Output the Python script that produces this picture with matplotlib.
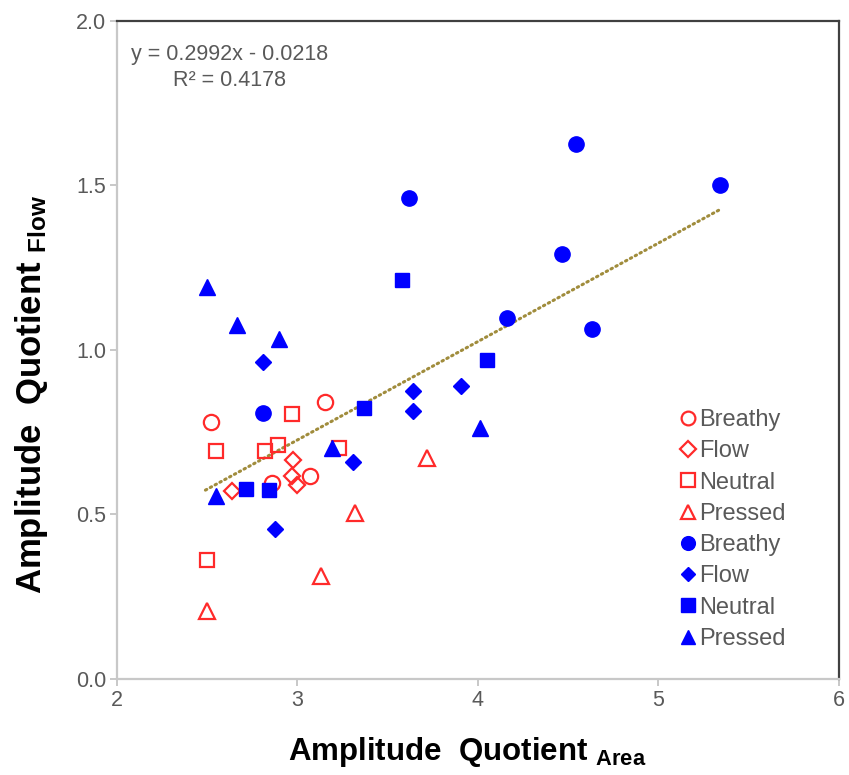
import matplotlib
matplotlib.use("Agg")
import matplotlib.pyplot as plt
import numpy as np

plt.rcParams['font.family'] = ['Liberation Sans', 'DejaVu Sans']
plt.rcParams['mathtext.fontset'] = 'custom'
plt.rcParams['mathtext.rm'] = 'Liberation Sans'
plt.rcParams['mathtext.bf'] = 'Liberation Sans:bold'
plt.rcParams['mathtext.it'] = 'Liberation Sans:italic'

# Open (red) series
red_breathy_x = [2.52, 3.15, 2.86, 3.07]
red_breathy_y = [0.781, 0.842, 0.595, 0.617]
red_flow_x = [2.64, 2.975, 2.97, 3.00]
red_flow_y = [0.572, 0.666, 0.617, 0.590]
red_neutral_x = [2.97, 2.55, 2.82, 2.89, 3.23, 2.50]
red_neutral_y = [0.805, 0.693, 0.693, 0.711, 0.702, 0.362]
red_pressed_x = [2.50, 3.13, 3.32, 3.72]
red_pressed_y = [0.207, 0.313, 0.505, 0.672]

# Filled (blue) series
blue_breathy_x = [5.34, 3.62, 4.543, 4.465, 4.16, 4.63, 2.81]
blue_breathy_y = [1.50, 1.462, 1.626, 1.292, 1.097, 1.064, 0.808]
blue_flow_x = [2.81, 3.64, 3.64, 3.905, 3.31, 2.875]
blue_flow_y = [0.964, 0.875, 0.815, 0.891, 0.660, 0.456]
blue_neutral_x = [3.58, 4.05, 3.37, 2.715, 2.84]
blue_neutral_y = [1.213, 0.970, 0.824, 0.577, 0.574]
blue_pressed_x = [2.50, 2.665, 2.90, 2.55, 3.19, 4.01]
blue_pressed_y = [1.192, 1.076, 1.033, 0.556, 0.702, 0.763]

# Trend line as drawn in the chart (end points)
trend_x = [2.49, 5.335]
trend_y = [0.574, 1.425]
equation_text = 'y = 0.2992x - 0.0218\nR² = 0.4178'

x_ticks = [2, 3, 4, 5, 6]
y_ticks = [0.0, 0.5, 1.0, 1.5, 2.0]

fig = plt.figure(figsize=(8.49, 7.75), dpi=100)
ax = fig.add_axes([0.1378, 0.1239, 0.988 - 0.1378, 0.9729 - 0.1239])

RED = '#FF2A2A'
BLUE = '#0000FF'
ms = 11

ax.plot(red_breathy_x, red_breathy_y, 'o', mfc='none', mec=RED, mew=1.6, ms=ms, label='Breathy', ls='none')
ax.plot(red_flow_x, red_flow_y, 'D', mfc='none', mec=RED, mew=1.6, ms=ms*0.78, label='Flow', ls='none')
ax.plot(red_neutral_x, red_neutral_y, 's', mfc='none', mec=RED, mew=1.6, ms=ms*0.95, label='Neutral', ls='none')
ax.plot(red_pressed_x, red_pressed_y, '^', mfc='none', mec=RED, mew=1.6, ms=ms, label='Pressed', ls='none')
ax.plot(blue_breathy_x, blue_breathy_y, 'o', color=BLUE, ms=ms, label='Breathy', ls='none')
ax.plot(blue_flow_x, blue_flow_y, 'D', color=BLUE, ms=ms*0.75, label='Flow', ls='none')
ax.plot(blue_neutral_x, blue_neutral_y, 's', color=BLUE, ms=ms*0.95, label='Neutral', ls='none')
ax.plot(blue_pressed_x, blue_pressed_y, '^', color=BLUE, ms=ms, label='Pressed', ls='none')

ax.plot(trend_x, trend_y, color='#A08C3C', lw=2.2, ls=(0, (0.5, 1.3)),
        dash_capstyle='round', zorder=1)

ax.set_xlim(2, 6)
ax.set_ylim(0, 2)
ax.set_xticks(x_ticks)
ax.set_yticks(y_ticks)
ax.set_xticklabels([str(v) for v in x_ticks])
ax.set_yticklabels([f'{v:.1f}' for v in y_ticks])
ax.tick_params(axis='both', direction='out', length=5, width=1.2, color='#BFBFBF',
               labelsize=15.5, labelcolor='#595959', pad=3)

for s in ['left', 'bottom']:
    ax.spines[s].set_color('#C8C8C8')
    ax.spines[s].set_linewidth(1.6)
for s in ['top', 'right']:
    ax.spines[s].set_color('#404040')
    ax.spines[s].set_linewidth(1.6)

ax.set_xlabel(r'$\mathbf{Amplitude\ \ Quotient}\ _{\mathbf{Area}}$', fontsize=22.5)
ax.set_ylabel(r'$\mathbf{Amplitude\ \ Quotient}\ _{\mathbf{Flow}}$', fontsize=25)
ax.xaxis.set_label_coords(0.485, -0.085)
ax.yaxis.set_label_coords(-0.093, 0.432)

ax.text(0.1565, 0.965, equation_text, transform=ax.transAxes,
        fontsize=15.5, color='#595959', ha='center', va='top', linespacing=1.3)

leg = ax.legend(loc='upper left', bbox_to_anchor=(0.7777, 0.4104), frameon=False, fontsize=17,
                handletextpad=0.1, handlelength=0.8, labelspacing=0.394, borderpad=0.0,
                borderaxespad=0.0, markerscale=0.9)
for t in leg.get_texts():
    t.set_color('#595959')

fig.savefig('out.png', dpi=100)
